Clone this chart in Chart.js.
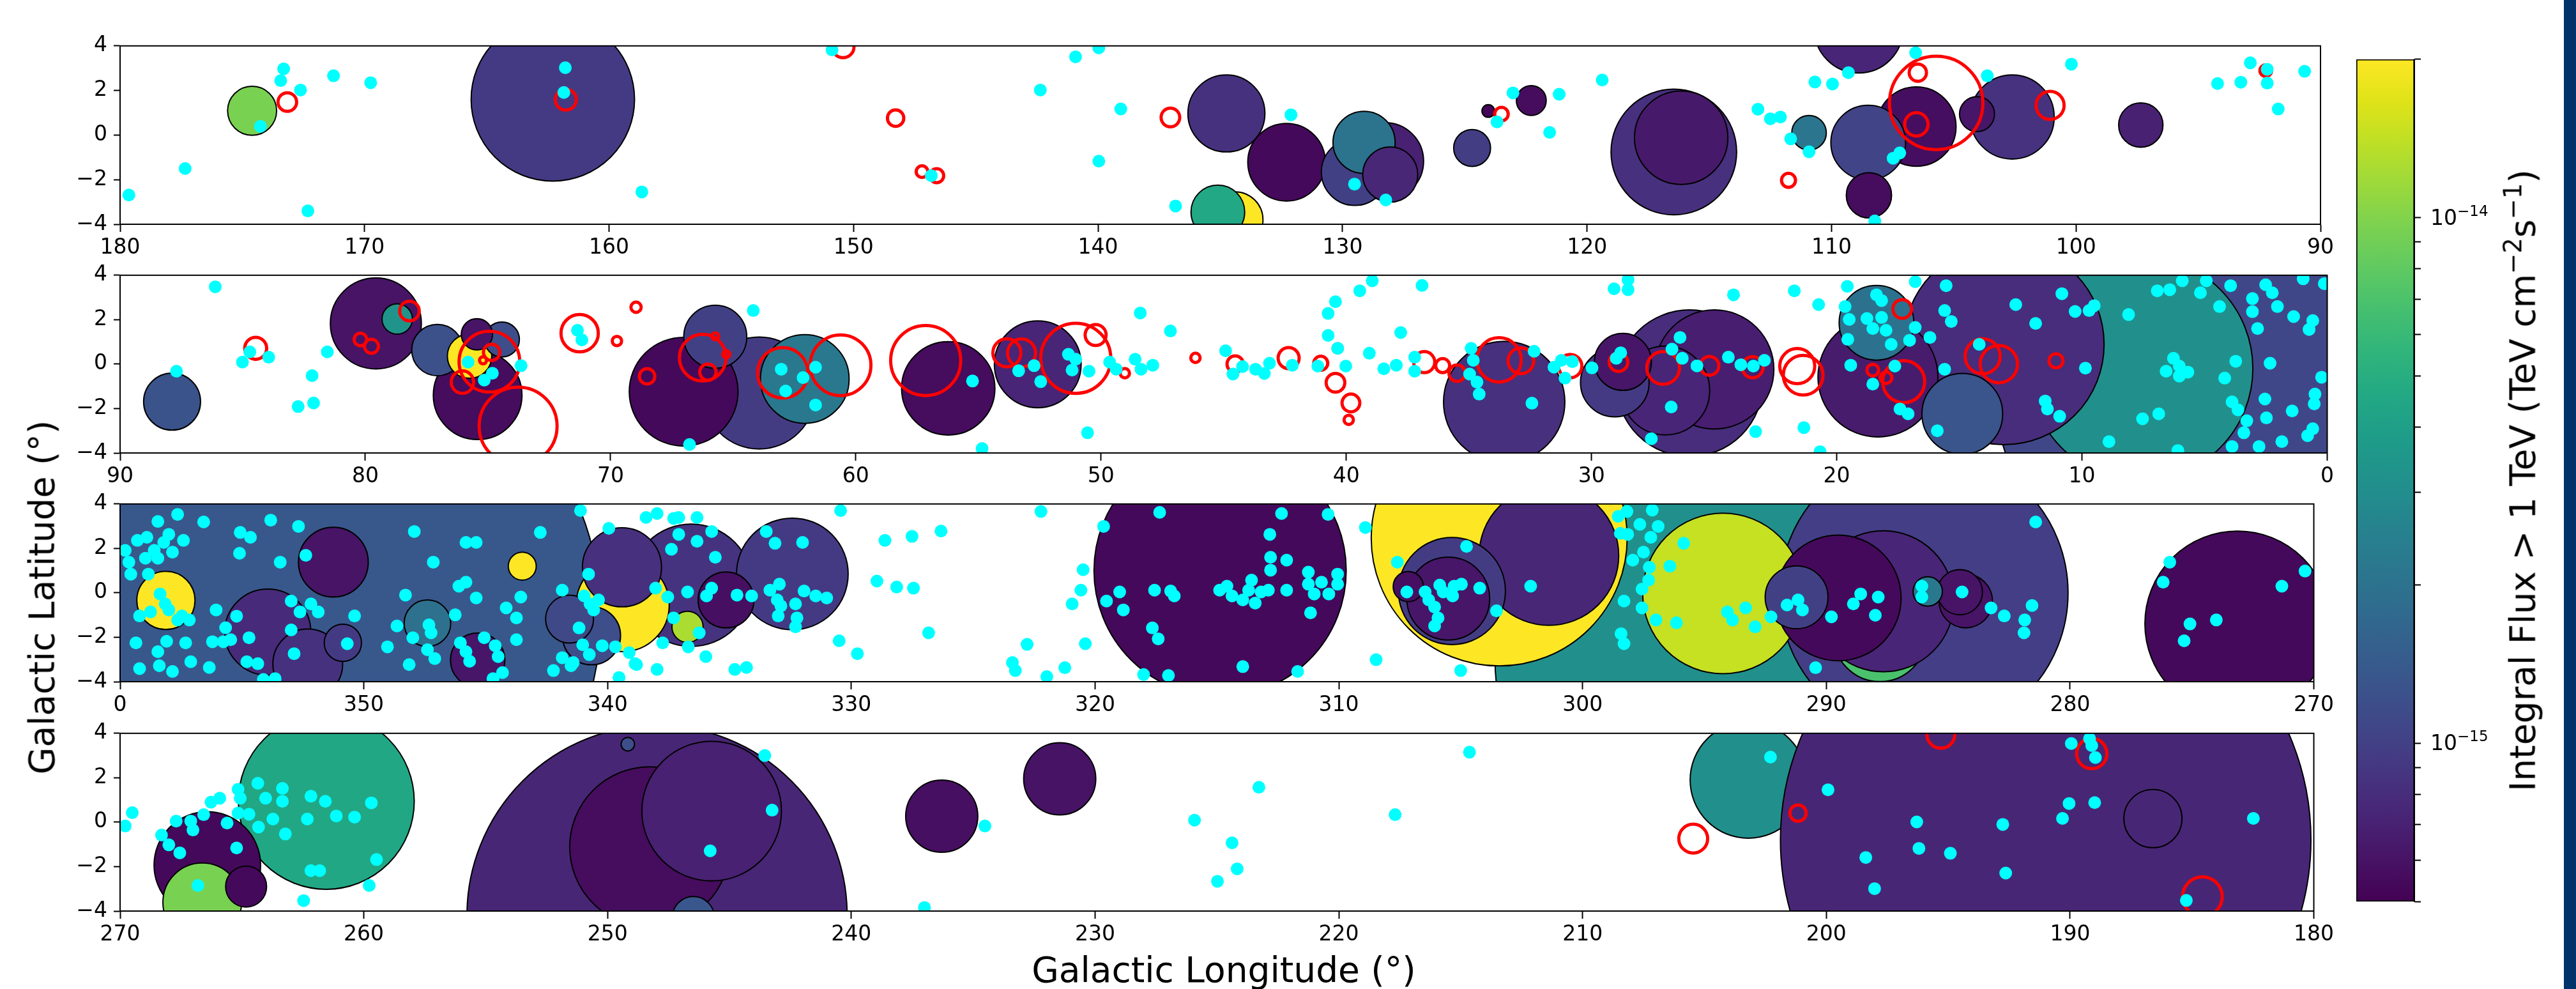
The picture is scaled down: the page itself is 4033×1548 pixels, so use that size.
<!DOCTYPE html>
<html><head><meta charset="utf-8">
<script src="https://cdn.jsdelivr.net/npm/chart.js@4.4.0/dist/chart.umd.min.js"></script>
<style>
html,body{margin:0;padding:0;background:#fff;}
body{width:4033px;height:1548px;position:relative;overflow:hidden;font-family:'DejaVu Sans',sans-serif;}
canvas{position:absolute;}
.lbl{position:absolute;font-size:55px;color:#000;white-space:nowrap;line-height:1;font-family:'DejaVu Sans',sans-serif;}
.lbl sup{font-size:0.7em;vertical-align:0.55em;line-height:0;}
.cbt{position:absolute;font-size:33px;line-height:33px;height:33px;color:#000;white-space:nowrap;font-family:'DejaVu Sans',sans-serif;}
.cbt span{font-size:23px;vertical-align:14px;line-height:0;}
</style></head><body>
<div id="wrap"></div>
<div class="lbl" style="left:66px;top:935px;transform:translate(-50%,-50%) rotate(-90deg);">Galactic Latitude (°)</div>
<div class="lbl" style="left:1916px;top:1518px;transform:translate(-50%,-50%);">Galactic Longitude (°)</div>
<div class="lbl" style="left:3950px;top:752px;transform:translate(-50%,-50%) rotate(-90deg);">Integral Flux &gt; 1 TeV (TeV cm<sup>−2</sup>s<sup>−1</sup>)</div>
<div style="position:absolute;left:4014px;top:0;width:19px;height:1548px;background:#003369;"></div>
<script>
// ---------------- DATA ----------------
// longitude ranges of the four panels (deg)
const lonRange1 = [90, 180];
const lonRange2 = [0, 90];
const lonRange3 = [270, 360];
const lonRange4 = [180, 270];
const latRange = [-4, 4];
// colour scale range, integral flux > 1 TeV (TeV cm^-2 s^-1)
const fluxRange = [5.0e-16, 2.0e-14];
const cbarTicks = [5e-16,6e-16,7e-16,8e-16,9e-16,1e-15,2e-15,3e-15,4e-15,5e-15,6e-15,7e-15,8e-15,9e-15,1e-14,2e-14];
const cbarLabelled = [1e-15, 1e-14];

// sources: [l, b, radius(deg), flux]  (listed in drawing order)
const sources1 = [
 [162.3,1.6,3.5,9.3e-16],[116.45,-0.76,2.69,8.3e-16],[116.15,-0.12,2.0,6.4e-16],[108.89,4.77,1.9,7.3e-16],
 [102.61,0.81,1.8,8.5e-16],[106.53,0.38,1.7,5.7e-16],[132.29,-1.22,1.66,5.4e-16],[134.75,0.97,1.65,8.4e-16],
 [128.26,-1.17,1.65,7.0e-16],[108.5,-0.34,1.6,1.05e-15],[129.5,-1.66,1.43,1.0e-15],[129.12,-0.33,1.33,2.03e-15],
 [134.4,-3.8,1.2,2.0e-14],[128.05,-1.77,1.18,7.5e-16],[135.1,-3.45,1.15,4.6e-15],[174.6,1.09,1.05,9.5e-15],
 [108.47,-2.70,0.97,5.6e-16],[97.35,0.45,0.95,7.0e-16],[124.7,-0.58,0.79,9.6e-16],[104.05,0.94,0.75,6.2e-16],
 [110.92,0.10,0.74,2.1e-15],[122.28,1.55,0.64,5.6e-16],[124.04,1.08,0.27,5.2e-16]
];
const sources2 = [
 [5.0,-1.0,9.0,1.09e-15],[7.6,-0.2,4.8,3.1e-15],[13.19,0.89,4.3,8.0e-16],[26.0,-0.86,3.14,8.0e-16],
 [33.56,-1.71,2.6,8.3e-16],[18.32,-0.58,2.57,6.6e-16],[24.99,-0.24,2.55,6.8e-16],[63.94,-1.30,2.4,9.5e-16],
 [67.02,-1.24,2.33,5.4e-16],[56.23,-1.09,2.0,5.6e-16],[79.57,1.83,1.95,6.1e-16],[26.99,-1.19,1.9,7.3e-16],
 [75.42,-1.40,1.9,5.6e-16],[62.08,-0.67,1.9,2.2e-15],[52.58,-0.01,1.86,7.3e-16],[14.88,-2.24,1.73,1.31e-15],
 [18.38,1.86,1.6,2.0e-15],[29.05,-0.83,1.47,9.3e-16],[65.73,1.23,1.35,1.0e-15],[87.88,-1.69,1.22,1.28e-15],
 [28.72,0.10,1.22,6.2e-16],[77.06,0.63,1.1,1.22e-15],[75.75,0.36,0.95,2.0e-14],[74.43,1.11,0.75,1.2e-15],
 [75.45,1.34,0.67,6.1e-16],[78.70,2.03,0.65,3.3e-15]
];
const sources3 = [
 [352.0,-1.07,12.28,1.36e-15],[295.0,-3.0,9.0,3.1e-15],[286.0,0.0,6.2,9.8e-16],[303.42,2.47,5.5,2.0e-14],
 [314.87,1.0,5.42,5.4e-16],[273.13,-1.39,3.98,5.4e-16],[287.8,-1.9,2.0,6.9e-15],[294.24,-0.03,3.45,1.45e-14],
 [287.66,-0.38,3.03,7.3e-16],[301.38,1.68,3.0,7.5e-16],[289.51,-0.23,2.7,5.4e-16],[336.57,0.34,2.63,8.6e-16],
 [332.42,0.85,2.4,9.3e-16],[305.36,0.08,2.3,9.5e-16],[339.38,-0.55,2.0,2.0e-14],[353.94,-1.77,1.85,7.8e-16],
 [305.51,-0.26,1.78,6.2e-16],[339.41,1.15,1.7,8.3e-16],[352.3,-3.2,1.5,8.4e-16],[351.25,1.38,1.5,6.1e-16],
 [291.22,-0.20,1.35,1.0e-15],[358.12,-0.34,1.25,2.0e-14],[340.66,-1.93,1.25,1.2e-15],[335.14,-0.32,1.2,5.8e-16],
 [345.33,-3.03,1.17,6.2e-16],[284.28,-0.37,1.15,6.1e-16],[341.56,-1.18,1.03,1.12e-15],[347.39,-1.37,1.0,1.95e-15],
 [284.52,0.03,0.97,6.1e-16],[350.86,-2.25,0.8,9.3e-16],[336.72,-1.53,0.67,1.25e-14],[307.15,0.28,0.65,5.8e-16],
 [285.84,0.06,0.63,2.2e-15],[343.50,1.20,0.6,2.0e-14]
];
const sources4 = [
 [203.2,1.9,2.5,3.1e-15],[191.0,-0.79,11.4,7.4e-16],[247.97,-4.2,8.17,7.4e-16],[261.54,0.94,3.78,4.5e-15],
 [248.27,-1.11,3.44,5.6e-16],[245.73,0.50,3.0,7.0e-16],[266.42,-1.93,2.29,5.4e-16],[266.63,-3.61,1.69,9.5e-15],
 [236.29,0.27,1.55,5.8e-16],[231.45,1.95,1.55,6.0e-16],[186.60,0.16,1.25,7.4e-16],[246.48,-4.29,0.9,1.35e-15],
 [264.83,-2.90,0.88,5.4e-16],[249.17,3.51,0.29,1.2e-15]
];

// red rings: [l, b, radius(deg)]
const rings1 = [
 [173.16,1.48,0.4],[161.77,1.59,0.45],[150.43,3.96,0.47],[148.28,0.76,0.35],[147.2,-1.64,0.25],[146.6,-1.82,0.3],
 [137.04,0.79,0.4],[105.72,1.44,2.0],[106.47,2.80,0.37],[106.53,0.48,0.5],[101.06,1.33,0.6],[123.5,0.94,0.29],
 [111.76,-2.03,0.3],[92.24,2.89,0.25]
];
const rings2 = [
 [84.47,0.71,0.47],[80.20,1.11,0.27],[79.75,0.80,0.3],[78.20,2.39,0.42],[68.96,2.56,0.22],[71.26,1.39,0.8],
 [69.74,1.04,0.2],[68.51,-0.55,0.33],[66.24,0.29,1.0],[65.73,1.25,0.15],[65.28,0.44,0.15],[66.03,-0.36,0.35],
 [76.04,-0.81,0.48],[74.85,0.53,0.35],[75.2,0.17,0.15],[74.94,0.11,1.3],[73.77,-2.79,1.67],[62.98,-0.39,1.08],
 [60.62,-0.05,1.3],[57.15,0.16,1.5],[53.84,0.51,0.6],[53.24,0.5,0.6],[51.03,0.26,1.5],[50.22,1.31,0.45],
 [49.03,-0.41,0.2],[46.15,0.28,0.2],[44.53,0.0,0.35],[42.35,0.27,0.45],[41.04,0.04,0.3],[40.35,0.71,0.2],
 [40.44,-0.84,0.4],[39.81,-1.75,0.38],[39.9,-2.51,0.2],[36.82,0.09,0.45],[36.07,-0.07,0.3],[35.48,-0.41,0.35],
 [33.77,0.19,0.95],[32.88,0.15,0.55],[30.87,-0.09,0.5],[28.90,0.09,0.4],[27.08,-0.17,0.7],[25.19,-0.08,0.4],
 [23.43,-0.14,0.45],[21.61,-0.09,0.75],[21.37,-0.50,0.85],[18.53,-0.27,0.25],[17.99,-0.61,0.25],[17.33,2.48,0.4],
 [17.27,-0.79,0.9],[14.05,0.35,0.75],[13.39,0.0,0.8],[11.06,0.15,0.3]
];
const rings3 = [];
const rings4 = [[205.46,-0.74,0.62],[201.16,0.41,0.35],[195.3,3.96,0.6],[189.11,3.09,0.65],[184.57,-3.35,0.85]];

// cyan points: [l, b]
const cyan1 = [
 [179.64,-2.69],[177.34,-1.50],[174.26,0.39],[173.43,2.44],[173.31,2.97],[172.62,2.02],[172.32,-3.40],[171.27,2.66],
 [169.75,2.35],[161.79,3.02],[161.85,1.91],[158.66,-2.55],[150.88,3.82],[146.82,-1.82],[142.36,2.02],[140.92,3.51],
 [139.97,3.91],[139.07,1.17],[139.97,-1.17],[136.83,-3.18],[132.11,0.91],[129.51,-2.20],[128.23,-2.91],[123.68,0.59],
 [123.03,1.89],[121.53,0.12],[121.14,1.83],[119.38,2.47],[113.01,1.16],[112.50,0.73],[112.09,0.81],[111.67,-0.17],
 [110.92,-0.75],[110.68,2.38],[109.96,2.29],[109.31,2.80],[108.23,-3.85],[107.48,-1.04],[107.21,-0.80],[106.56,3.69],
 [103.63,2.66],[100.19,3.18],[94.21,2.31],[93.26,2.37],[92.87,3.24],[92.18,2.95],[92.18,2.33],[91.73,1.17],[90.65,2.86]
];
const cyan2 = [
 [86.12,3.48],[87.70,-0.32],[85.01,0.09],[84.71,0.55],[83.94,0.31],[81.55,0.55],[82.17,-0.52],[82.74,-1.91],
 [82.11,-1.75],[75.81,0.09],[75.15,-0.72],[74.82,-0.41],[73.65,-0.07],[71.35,1.52],[71.17,1.09],[64.18,2.41],
 [66.78,-3.62],[63.04,-0.23],[62.15,-0.61],[61.64,-0.14],[62.86,-1.21],[61.64,-1.84],[55.24,-0.76],[54.85,-3.80],
 [53.36,-0.30],[52.73,-0.07],[52.46,-0.79],[51.33,0.44],[51.18,-0.27],[51.03,0.22],[50.49,-0.32],[50.55,-3.09],
 [49.65,0.09],[49.38,-0.23],[48.61,0.22],[48.37,-0.23],[47.89,-0.05],[48.40,2.30],[47.17,1.49],
 [44.92,0.60],[44.62,-0.45],[44.23,-0.11],[43.70,-0.23],[43.34,-0.42],[43.13,0.04],[42.20,-0.05],[41.16,-0.09],
 [40.74,2.28],[40.44,2.81],[40.74,1.29],[40.35,0.71],[40.02,-0.09],[39.45,3.30],[38.94,3.75],[39.06,0.49],
 [38.47,-0.21],[37.96,-0.05],[37.78,1.42],[37.21,0.31],[37.21,-0.32],[36.91,3.54],[34.91,0.71],[34.82,0.17],
 [34.97,-0.45],[34.67,-0.81],[34.58,-1.35],[32.43,-1.76],[32.34,0.58],[31.53,-0.14],[31.23,0.17],[31.08,-0.63],
 [30.78,0.11],[29.98,-0.17],[29.08,3.39],[28.51,3.35],[28.51,3.80],[28.99,0.26],[28.81,0.51],[26.72,0.67],
 [26.39,1.20],[26.30,0.26],[25.70,-0.08],[26.75,-1.93],[27.56,-3.36],[24.42,0.31],[24.21,3.12],[23.91,-0.03],
 [23.40,-0.09],[22.95,0.17],[23.31,-3.04],[21.73,3.30],[21.34,-2.86],[20.74,2.68],[20.68,-3.94],[19.66,2.59],
 [19.57,3.50],[19.43,-0.05],[19.55,1.11],[19.49,2.01],[18.77,2.05],[18.53,1.60],[18.38,3.12],[18.17,2.86],
 [18.17,2.10],[17.99,1.52],[17.78,0.89],[17.03,1.07],[16.80,1.65],[16.20,1.20],[17.63,-0.09],[18.53,-0.90],
 [17.42,-2.02],[17.09,-2.24],[15.90,-3.00],[16.80,3.71],[15.54,3.53],[15.60,2.41],[15.33,1.92],[15.60,-0.23],
 [14.19,0.89],[12.70,2.68],[11.89,1.83],[11.50,-1.66],[11.41,-2.02],[10.91,-2.35],[10.82,3.17],[10.28,2.37],
 [9.71,2.41],[9.50,2.63],[9.86,-0.18],[8.10,2.23],[8.90,-3.49],[7.53,-2.46],[6.87,-2.24],[6.93,3.30],
 [6.42,3.35],[5.91,3.75],[5.17,3.21],[4.93,3.75],[6.27,0.26],[6.57,-0.32],[6.03,-0.54],[5.68,-0.36],
 [6.03,-0.09],[6.09,-3.89],[4.39,2.59],[3.94,3.53],[3.73,0.13],[4.18,-0.63],[3.88,-1.70],[3.64,-2.06],
 [3.28,-2.55],[3.40,-3.09],[3.88,-3.71],[3.05,2.95],[3.05,2.36],[2.84,1.60],[2.51,3.57],[2.24,3.21],
 [2.03,2.59],[2.48,-2.42],[2.54,-1.57],[2.33,0.04],[1.85,-3.49],[1.43,-2.11],[1.37,2.14],[0.98,3.84],
 [0.74,1.56],[0.59,1.96],[0.53,-1.79],[0.59,-2.91],[0.80,-3.22],[0.50,-1.35],[0.23,-0.59],[0.12,3.62],[2.78,-3.71]
];
const cyan3 = [
 [359.79,1.91],[359.64,1.38],[359.56,0.84],[359.29,2.36],[358.90,2.50],[358.84,0.84],[358.96,1.56],[358.45,3.21],
 [358.00,2.63],[358.21,2.27],[357.85,1.83],[358.60,1.91],[358.45,1.56],[357.64,3.53],[357.40,2.36],[356.57,3.19],
 [359.20,-1.04],[358.75,-0.86],[358.36,-0.05],[358.15,-0.50],[358.00,-0.77],[357.64,-1.22],[357.46,-1.04],[357.16,-1.22],
 [359.35,-2.25],[358.09,-2.18],[357.31,-2.25],[358.45,-2.65],[358.39,-3.28],[359.20,-3.41],[357.85,-3.54],[357.10,-3.10],
 [356.34,-3.36],[356.06,-0.77],[355.22,-1.05],[356.21,-2.20],[355.76,-2.20],[355.46,-2.11],[354.71,-2.02],[355.67,-1.57],
 [355.07,2.72],[354.65,2.50],[355.10,1.78],[353.82,3.27],[353.43,1.38],[352.68,2.99],[352.38,1.69],[352.98,-0.37],
 [352.17,-0.50],[352.62,-0.86],[351.87,-0.86],[352.98,-1.67],[352.86,-2.74],[354.80,-3.10],[354.35,-3.19],[354.12,-3.90],
 [353.64,-3.86],[350.38,-1.04],[350.68,-2.29],[349.03,-2.43],[348.64,-1.49],[348.29,-0.10],[347.93,2.76],[347.15,1.38],
 [347.99,-2.02],[347.33,-1.44],[347.24,-1.80],[347.39,-2.56],[347.09,-2.96],[348.14,-3.23],[346.25,-0.99],[346.10,0.30],
 [345.81,0.48],[346.04,-2.25],[345.81,-2.65],[345.66,-3.08],[345.81,2.27],[345.39,2.27],[345.39,-0.23],[345.06,-2.02],
 [344.61,-2.38],[344.49,-2.87],[344.31,-3.59],[344.70,-3.86],[344.16,-0.68],[343.74,-1.13],[343.74,-2.11],[343.56,-0.19],
 [342.76,2.72],[342.22,-3.50],[341.86,0.12],[341.41,-3.14],[341.11,3.70],[340.96,-0.14],[340.72,-0.50],[340.57,-0.77],
 [340.37,-0.32],[340.22,-2.38],[339.68,-2.43],[340.78,0.84],[341.17,-1.58],[341.02,-2.34],[341.86,-2.92],[341.50,-3.28],
 [340.75,-2.78],[339.95,2.90],[339.53,-3.81],[339.11,-2.69],[338.81,-3.23],[338.42,3.39],[337.97,3.57],[337.29,3.35],
 [337.08,3.39],[336.33,3.39],[337.38,1.96],[337.08,2.63],[336.33,2.32],[335.73,2.76],[335.58,1.60],[338.03,0.21],
 [337.53,-0.19],[336.72,0.04],[335.94,-0.14],[335.73,0.21],[337.74,-2.25],[337.29,-1.13],[336.69,-2.43],[336.24,-1.80],
 [335.97,-2.87],[338.87,-3.19],[337.97,-3.45],[334.78,-3.45],[334.30,-3.36],[334.69,-0.10],[334.09,-0.14],[333.49,2.76],
 [333.13,2.23],[332.95,0.39],[333.34,0.12],[333.04,-0.32],[332.89,-0.59],[332.29,-0.50],[333.00,-1.04],[332.23,-1.13],
 [332.29,-1.53],[331.94,0.08],[331.46,-0.14],[332.00,2.27],[331.01,-0.23],[330.44,3.70],[330.50,-2.16],[329.75,-2.74],
 [328.95,0.53],[328.62,2.36],[328.14,0.26],[327.51,2.54],[327.45,0.21],[326.83,-1.80],[326.32,2.78],[323.39,-3.14],
 [323.27,-3.50],[322.79,-2.32],[322.22,3.66],[321.98,-3.77],[321.24,-3.37],[320.94,-0.50],[320.58,0.12],[320.49,1.04],
 [320.40,-2.29],[319.65,2.99],[319.53,-0.37],[318.99,0.04],[318.84,-0.77],[318.01,-3.68],[317.65,-1.58],[317.41,-2.07],
 [317.56,0.12],[317.35,3.62],[316.90,0.08],[316.75,-0.14],[316.99,-3.72],
 [314.89,0.12],[314.59,0.30],[314.38,-0.14],[313.94,-0.32],[313.70,0.12],[313.58,0.57],[313.43,-0.46],[313.19,0.04],
 [312.89,0.12],[312.83,2.63],[312.80,1.60],[312.80,1.02],[312.35,3.57],[312.14,1.47],[312.14,0.12],[311.25,0.93],
 [311.25,0.39],[311.01,-0.05],[310.71,0.48],[310.44,3.53],[310.41,-0.05],[310.05,0.84],[310.05,0.39],[311.16,-0.90],
 [308.91,2.94],[313.94,-3.32],[311.69,-3.54],[308.47,-3.01],[307.60,1.38],[307.21,0.04],[306.46,0.04],[306.31,-0.32],
 [306.07,-0.64],[305.86,0.35],[305.72,0.04],[305.33,-0.14],[305.27,0.30],[304.97,0.39],[304.76,2.09],[304.22,0.21],
 [305.93,-1.13],[306.07,-1.49],[303.53,-0.81],[302.13,0.30],[305.00,-3.50],[298.54,3.44],[298.18,3.66],[298.45,2.68],
 [298.15,2.63],[297.65,3.08],[297.14,3.72],[296.90,2.99],[297.20,2.50],[297.50,1.83],[297.94,1.47],[297.26,1.15],
 [296.42,1.20],[295.85,2.23],[297.29,0.57],[297.56,0.17],[298.30,-0.37],[297.56,-0.68],[296.99,-1.22],[296.15,-1.35],
 [298.42,-1.84],[298.30,-2.29],[294.06,-0.86],[293.31,-0.68],[293.85,-1.22],[292.92,-1.53],[292.27,-1.08],[291.61,-0.55],
 [291.16,-0.32],[290.98,-0.77],[290.44,-3.37],[289.79,-1.08],[288.89,-0.50],[288.59,-0.05],[287.87,-0.19],[287.99,-1.01],
 [286.08,0.30],[286.08,-0.19],[284.43,0.04],[283.24,-0.68],[282.70,-1.04],[281.86,-1.22],[281.89,-1.80],[281.56,-0.57],
 [281.41,3.19],[275.91,1.38],[276.18,0.48],[275.08,-1.40],[274.00,-1.22],[275.32,-2.16],[271.31,0.30],[270.36,0.98]
];
const cyan4 = [
 [269.79,-0.17],[269.50,0.43],[268.30,-0.58],[268.00,-1.02],[267.55,-1.38],[267.70,0.05],[267.10,0.05],[267.01,-0.35],
 [266.57,0.34],[266.27,0.90],[265.91,1.08],[265.61,-0.04],[265.16,1.48],[265.07,1.08],[265.16,0.41],[264.71,0.36],
 [264.35,1.75],[264.32,-0.22],[265.22,-1.16],[264.03,1.08],[263.73,0.14],[263.34,1.52],[263.34,0.94],[263.22,-0.53],
 [262.32,0.14],[262.17,1.17],[261.58,0.94],[261.13,0.28],[260.38,0.23],[259.69,0.87],[259.48,-1.68],[262.17,-2.18],
 [261.81,-2.18],[259.78,-2.85],[262.47,-3.53],[266.81,-2.85],[243.55,3.00],[243.25,0.54],[245.79,-1.29],[237.00,-3.84],
 [234.52,-0.17],[225.92,0.09],[224.98,-2.66],[224.17,-2.10],[224.38,-0.93],[223.28,1.57],[217.69,0.34],[214.64,3.15],
 [202.29,2.93],[199.93,1.46],[198.38,-1.59],[198.02,-2.99],[196.29,0.01],[196.20,-1.18],[194.91,-1.40],[192.76,-0.10],
 [192.64,-2.29],[190.31,0.17],[190.04,0.84],[189.95,3.54],[189.20,3.76],[189.11,3.45],[188.96,2.91],[188.99,0.88],
 [185.23,-3.52],[182.48,0.17]
];

// ---------------- RENDERING ----------------
const FONT = 'DejaVu Sans';
const viridisStops = ['#440154','#471365','#482475','#463480','#414487','#3b528b','#355f8d','#2f6c8e','#2a788e','#25848e','#21918c','#1e9c89','#22a884','#2fb47c','#44bf70','#5ec962','#7ad151','#9bd93c','#bddf26','#dfe318','#fde725'];
const stopRgb = viridisStops.map(h => [parseInt(h.slice(1,3),16), parseInt(h.slice(3,5),16), parseInt(h.slice(5,7),16)]);
function viridis(t) {
  t = Math.max(0, Math.min(1, t));
  const x = t * (stopRgb.length - 1);
  const i = Math.min(Math.floor(x), stopRgb.length - 2);
  const f = x - i;
  const c = [0,1,2].map(k => Math.round(stopRgb[i][k] + (stopRgb[i+1][k] - stopRgb[i][k]) * f));
  return `rgb(${c[0]},${c[1]},${c[2]})`;
}
const lmin = Math.log10(fluxRange[0]), lmax = Math.log10(fluxRange[1]);
function fluxColor(f) { return viridis((Math.log10(f) - lmin) / (lmax - lmin)); }

function pxPerDeg(chart) {
  const xs = chart.scales.x, ys = chart.scales.y;
  if (!xs || !ys) return 0;
  const px = Math.abs(xs.getPixelForValue(1) - xs.getPixelForValue(0));
  const py = Math.abs(ys.getPixelForValue(1) - ys.getPixelForValue(0));
  return Math.sqrt(px * py);
}

const framePlugin = {
  id: 'frame',
  afterDatasetsDraw(chart) {
    const a = chart.chartArea, c = chart.ctx;
    c.save(); c.strokeStyle = '#000'; c.lineWidth = 2;
    c.strokeRect(a.left, a.top, a.right - a.left, a.bottom - a.top);
    c.restore();
  }
};

const panels = [
  {range: lonRange1, top: 52,  h: 299, src: sources1, rings: rings1, pts: cyan1},
  {range: lonRange2, top: 411, h: 298, src: sources2, rings: rings2, pts: cyan2},
  {range: lonRange3, top: 769, h: 298, src: sources3, rings: rings3, pts: cyan3},
  {range: lonRange4, top: 1128, h: 298, src: sources4, rings: rings4, pts: cyan4}
];

const wrap = document.getElementById('wrap');
const PAD_TOP = 10, XAX_H = 66, YAX_W = 188, CW = 3660;

panels.forEach(p => {
  const cv = document.createElement('canvas');
  const H = PAD_TOP + p.h + XAX_H;
  cv.width = CW; cv.height = H;
  cv.style.left = '0px'; cv.style.top = (p.top - PAD_TOP) + 'px';
  cv.style.width = CW + 'px'; cv.style.height = H + 'px';
  wrap.appendChild(cv);
  const tickFont = {family: FONT, size: 33};
  new Chart(cv, {
    type: 'scatter',
    data: {
      datasets: [
        { // cyan points (top)
          data: p.pts.map(d => ({x: d[0], y: d[1]})),
          pointRadius: 10, pointBackgroundColor: '#00ffff', pointBorderWidth: 0, pointBorderColor: '#00ffff',
          clip: 0
        },
        { // red rings
          data: p.rings.map(d => ({x: d[0], y: d[1], rad: d[2]})),
          pointRadius: c => c.raw ? c.raw.rad * pxPerDeg(c.chart) : 0,
          pointBackgroundColor: 'rgba(0,0,0,0)', pointBorderColor: '#ff0000', pointBorderWidth: 5,
          clip: 0
        },
        { // sources
          data: p.src.map(d => ({x: d[0], y: d[1], rad: d[2], flux: d[3]})),
          pointRadius: c => c.raw ? c.raw.rad * pxPerDeg(c.chart) : 0,
          pointBackgroundColor: c => c.raw ? fluxColor(c.raw.flux) : '#000',
          pointBorderColor: '#000', pointBorderWidth: 2,
          clip: 0
        }
      ]
    },
    options: {
      responsive: false, animation: false, events: [],
      layout: {padding: {top: PAD_TOP, right: CW - 3645, left: 0, bottom: 0}},
      plugins: {legend: {display: false}, tooltip: {enabled: false}},
      scales: {
        x: {
          type: 'linear', min: p.range[0], max: p.range[1], reverse: true,
          ticks: {stepSize: 10, autoSkip: false, maxRotation: 0, font: tickFont, color: '#000', padding: 6,
                  callback: v => String(v % 360)},
          grid: {drawOnChartArea: false, drawTicks: true, tickLength: 12, tickWidth: 2, tickColor: '#000'},
          border: {display: true, color: '#000', width: 2},
          afterFit: s => { s.height = XAX_H; }
        },
        y: {
          type: 'linear', min: latRange[0], max: latRange[1],
          ticks: {stepSize: 2, autoSkip: false, font: tickFont, color: '#000', padding: 10,
                  callback: v => v < 0 ? '\u2212' + (-v) : String(v)},
          grid: {drawOnChartArea: false, drawTicks: true, tickLength: 10, tickWidth: 2, tickColor: '#000'},
          border: {display: true, color: '#000', width: 2},
          afterFit: s => { s.width = YAX_W; }
        }
      }
    },
    plugins: [framePlugin]
  });
});

// ---- colour bar ----
const cb = document.createElement('canvas');
const CBW = 330, CBH = 1386, CBL = 3680, CBT = 59;
cb.width = CBW; cb.height = CBH;
cb.style.left = CBL + 'px'; cb.style.top = CBT + 'px'; cb.style.width = CBW + 'px'; cb.style.height = CBH + 'px';
wrap.appendChild(cb);
const cbChart = new Chart(cb, {
  type: 'bar',
  data: {
    labels: ['flux'],
    datasets: [{
      data: [[fluxRange[0], fluxRange[1]]],
      backgroundColor: c => {
        const ch = c.chart, a = ch.chartArea;
        if (!a) return '#000';
        const g = ch.ctx.createLinearGradient(0, a.bottom, 0, a.top);
        viridisStops.forEach((s, i) => g.addColorStop(i / (viridisStops.length - 1), s));
        return g;
      },
      borderColor: '#000', borderWidth: 2, borderSkipped: false,
      barPercentage: 1, categoryPercentage: 1
    }]
  },
  options: {
    responsive: false, animation: false, events: [],
    layout: {padding: {left: 9, top: 20, bottom: 20, right: 0}},
    plugins: {legend: {display: false}, tooltip: {enabled: false}},
    scales: {
      x: {display: false},
      y: {
        type: 'logarithmic', position: 'right', min: fluxRange[0], max: fluxRange[1],
        afterBuildTicks: s => { s.ticks = cbarTicks.map(v => ({value: v})); },
        ticks: {autoSkip: false, font: {family: FONT, size: 33}, color: '#000', padding: 14, callback: () => ''},
        grid: {drawOnChartArea: false, drawTicks: true, tickLength: 10, tickWidth: 2, tickColor: '#000'},
        border: {display: true, color: '#000', width: 2},
        afterFit: s => { s.width = 230; }
      }
    }
  }
});
// decade tick labels (mathtext style 10^n), placed from the colour bar's own scale
const ys = cbChart.scales.y;
cbarLabelled.forEach(v => {
  const e = Math.round(Math.log10(v));
  const d = document.createElement('div');
  d.className = 'cbt';
  d.innerHTML = '10<span>' + (e < 0 ? '\u2212' : '') + Math.abs(e) + '</span>';
  d.style.left = (CBL + ys.left + 25) + 'px';
  d.style.top = (CBT + ys.getPixelForValue(v) - 17) + 'px';
  document.body.appendChild(d);
});
</script>
</body></html>
